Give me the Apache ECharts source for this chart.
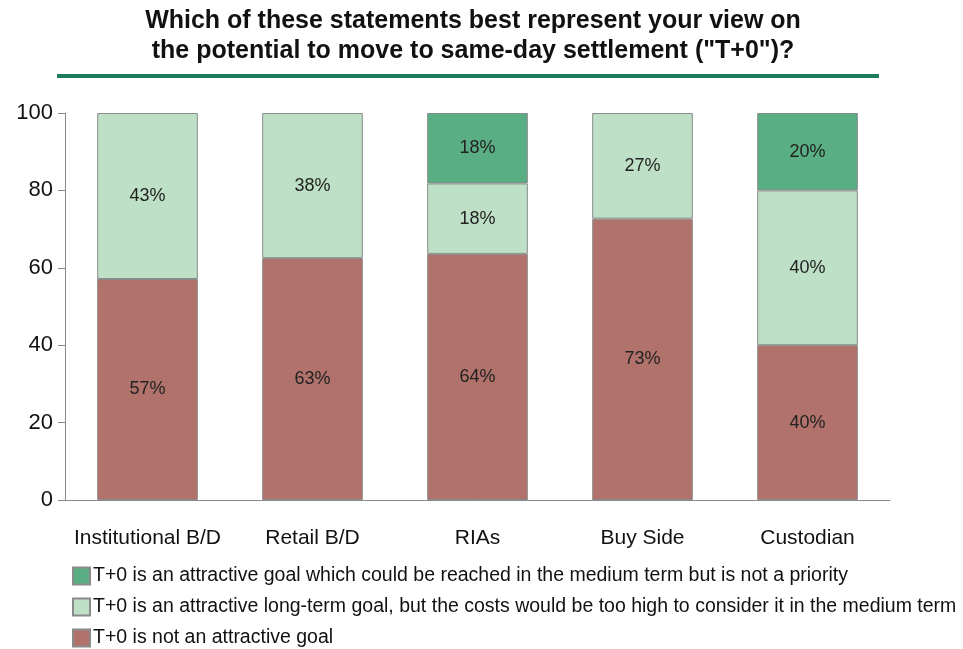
<!DOCTYPE html>
<html><head><meta charset="utf-8">
<script src="https://cdn.jsdelivr.net/npm/echarts@6/dist/echarts.min.js"></script>
<style>html,body{margin:0;padding:0;background:#fff}#c{width:963px;height:649px}</style>
</head><body><div id="c"></div>
<script>
const categories = ['Institutional B/D', 'Retail B/D', 'RIAs', 'Buy Side', 'Custodian'];
const notAttractive = [57.1, 62.5, 63.6, 72.7, 40];
const longTerm = [42.9, 37.5, 18.2, 27.3, 40];
const mediumTerm = [null, null, 18.2, null, 20];
const seriesNames = [
  'T+0 is an attractive goal which could be reached in the medium term but is not a priority',
  'T+0 is an attractive long-term goal, but the costs would be too high to consider it in the medium term',
  'T+0 is not an attractive goal'
];
const yTicks = [0, 20, 40, 60, 80, 100];

const FF = 'Liberation Sans, Arial, sans-serif';
const chart = echarts.init(document.getElementById('c'));
const lbl = {show: true, position: 'inside', color: '#222', fontSize: 18, fontFamily: FF,
  formatter: p => Math.round(p.value) + '%'};
function mk(name, data, color) {
  return {name, type: 'bar', stack: 's', data, barWidth: '61%',
    itemStyle: {color, borderColor: '#8a8a8a', borderWidth: 1}, label: lbl};
}
chart.setOption({
  animation: false,
  title: {text: 'Which of these statements best represent your view on\nthe potential to move to same-day settlement ("T+0")?',
    left: 468, textAlign: 'center', top: 1,
    textStyle: {fontFamily: FF, fontWeight: 'bold', fontSize: 25, lineHeight: 30, color: '#111'}},
  graphic: [{type: 'rect', shape: {x: 57, y: 74, width: 822, height: 4}, style: {fill: '#1E7B5A'}}],
  grid: {left: 65, right: 73, top: 113, bottom: 149},
  legend: {orient: 'vertical', left: 72, top: 566, height: 100, padding: 0, itemGap: 11, itemWidth: 17, itemHeight: 17,
    data: seriesNames, icon: 'rect',
    textStyle: {fontFamily: FF, fontSize: 19.5, color: '#111', padding: [0, 0, 0, -2]}},
  xAxis: {type: 'category', data: categories,
    axisLine: {lineStyle: {color: '#8a8a8a'}}, axisTick: {show: false},
    axisLabel: {interval: 0, fontFamily: FF, fontSize: 21, color: '#111', margin: 28}},
  yAxis: {type: 'value', min: yTicks[0], max: yTicks[yTicks.length - 1], interval: 20,
    splitLine: {show: false},
    axisLine: {show: true, lineStyle: {color: '#8a8a8a'}},
    axisTick: {show: true, length: 7, lineStyle: {color: '#8a8a8a'}},
    axisLabel: {fontFamily: FF, fontSize: 22, color: '#111', margin: 12}},
  series: [
    mk(seriesNames[2], notAttractive, '#B0726B'),
    mk(seriesNames[1], longTerm, '#BEE0C6'),
    mk(seriesNames[0], mediumTerm, '#5AAE84')
  ]
});
</script></body></html>
